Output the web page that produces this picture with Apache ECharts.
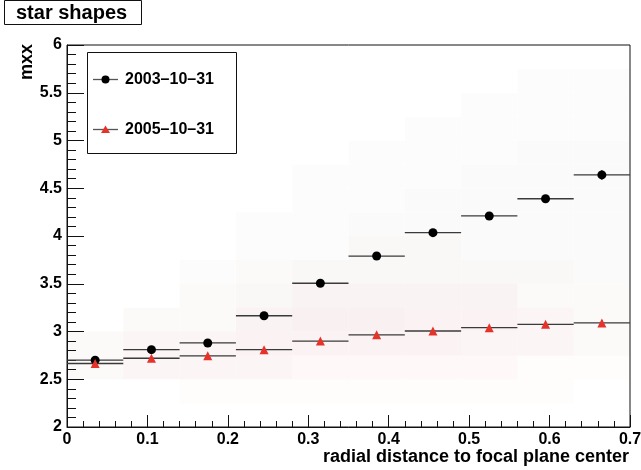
<!DOCTYPE html>
<html>
<head>
<meta charset="utf-8">
<script src="https://cdn.jsdelivr.net/npm/echarts@6/dist/echarts.min.js"></script>
<style>
html,body{margin:0;padding:0;background:#fff;}
#chart{width:641px;height:470px;}
</style>
</head>
<body>
<div id="chart"></div>
<script>
// ---- data ----
const binCenters = [0.035, 0.105, 0.175, 0.245, 0.315, 0.385, 0.455, 0.525, 0.595, 0.665];
const mxx2003 = [2.70, 2.81, 2.88, 3.165, 3.505, 3.79, 4.035, 4.21, 4.39, 4.64];
const err2003 = [0.01, 0.01, 0.01, 0.01, 0.015, 0.015, 0.02, 0.02, 0.025, 0.05];
const mxx2005 = [2.665, 2.72, 2.745, 2.81, 2.90, 2.965, 3.005, 3.04, 3.075, 3.09];
const err2005 = [0.005, 0.005, 0.005, 0.005, 0.005, 0.008, 0.008, 0.01, 0.01, 0.03];
const xTickLabels = ['0', '0.1', '0.2', '0.3', '0.4', '0.5', '0.6', '0.7'];
const yTickLabels = ['2', '2.5', '3', '3.5', '4', '4.5', '5', '5.5', '6'];
const legendLabels = ['2003\u201310\u201331', '2005\u201310\u201331'];
const titleText = 'star shapes';
const xTitle = 'radial distance to focal plane center';
const yTitle = 'mxx';
// faint point-cloud density (rows: mxx 2.0-2.25 ... 5.75-6.0; columns: the 10 bins)
const greyDensity = [
  [0,0,0,0,0,0,0,0,0,0],
  [0,0,0,0,0,0,0,0,0,0],
  [1,1,1,1,0,0,0,0,0,0],
  [1,1,1,1,1,1,1,1,1,1],
  [0,1,1,2,2,2,1,1,1,1],
  [0,0,1,2,2,2,2,2,1,1],
  [0,0,1,1,2,2,2,2,2,2],
  [0,0,0,1,1,2,2,2,2,2],
  [0,0,0,1,1,2,2,2,2,2],
  [0,0,0,0,1,1,2,2,2,2],
  [0,0,0,0,1,1,1,2,2,2],
  [0,0,0,0,0,1,1,1,2,2],
  [0,0,0,0,0,0,1,1,1,1],
  [0,0,0,0,0,0,0,1,1,1],
  [0,0,0,0,0,0,0,0,1,1],
  [0,0,0,0,0,0,0,0,0,0]
];
const redDensity = [
  [0,0,0,0,0,0,0,0,0,0],
  [0,0,1,1,1,1,1,1,1,0],
  [1,2,2,2,2,2,2,2,1,1],
  [1,2,2,3,3,3,3,2,2,1],
  [0,1,1,2,3,3,3,3,2,1],
  [0,0,1,1,2,2,2,2,1,1],
  [0,0,0,1,1,1,1,1,1,0],
  [0,0,0,0,0,1,1,0,0,0]
];

// ---- build ----
const binHalf = 0.035, rowH = 0.25, yMin = 2;
function cells(dens) {
  const out = [];
  dens.forEach((row, r) => row.forEach((lv, c) => {
    if (lv > 0) out.push([binCenters[c], yMin + r * rowH + rowH / 2, lv]);
  }));
  return out;
}
function cloudSeries(dens, colors) {
  return {
    type: 'custom', silent: true, z: 1,
    data: cells(dens),
    renderItem: function (params, api) {
      const x = api.value(0), y = api.value(1), lv = api.value(2);
      const p0 = api.coord([x - binHalf, y + rowH / 2]);
      const p1 = api.coord([x + binHalf, y - rowH / 2]);
      return { type: 'rect', shape: { x: p0[0], y: p0[1], width: p1[0] - p0[0], height: p1[1] - p0[1] },
        style: { fill: colors[lv - 1] } };
    }
  };
}
function errSeries(xs, ys, es) {
  return {
    type: 'custom', silent: true, z: 3,
    data: xs.map((x, i) => [x, ys[i], es[i]]),
    renderItem: function (params, api) {
      const x = api.value(0), y = api.value(1), e = api.value(2);
      const a = api.coord([x - binHalf, y]), b = api.coord([x + binHalf, y]);
      const c = api.coord([x, y - e]), d = api.coord([x, y + e]);
      const st = { stroke: '#3a3a3a', lineWidth: 1.3 };
      return { type: 'group', children: [
        { type: 'line', shape: { x1: a[0], y1: a[1], x2: b[0], y2: b[1] }, style: st },
        { type: 'line', shape: { x1: c[0], y1: c[1], x2: d[0], y2: d[1] }, style: st }
      ] };
    }
  };
}

const FONT = '"Liberation Sans", Arial, Helvetica, sans-serif';
const chart = echarts.init(document.getElementById('chart'), null, { renderer: 'canvas' });
const option = {
  animation: false,
  backgroundColor: '#fff',
  grid: { left: 67, right: 11, top: 45, bottom: 43, containLabel: false, outerBoundsMode: 'none',
    show: true, borderColor: '#111', borderWidth: 1, backgroundColor: 'transparent' },
  xAxis: {
    type: 'value', min: 0, max: 0.7, interval: 0.1,
    axisLine: { show: true, onZero: false, lineStyle: { color: '#111', width: 1 } },
    axisTick: { show: true, inside: true, length: 12, lineStyle: { color: '#111' } },
    minorTick: { show: true, splitNumber: 5, length: 6, lineStyle: { color: '#111' } },
    splitLine: { show: false }, minorSplitLine: { show: false },
    axisLabel: { show: true, margin: 5, color: '#000', fontSize: 16, fontWeight: 'bold', fontFamily: FONT,
      showMinLabel: true, showMaxLabel: true,
      formatter: v => xTickLabels[Math.round(v * 10)] }
  },
  yAxis: {
    type: 'value', min: 2, max: 6, interval: 0.5,
    axisLine: { show: true, onZero: false, lineStyle: { color: '#111', width: 1 } },
    axisTick: { show: true, inside: true, length: 17, lineStyle: { color: '#111' } },
    minorTick: { show: true, splitNumber: 5, length: 9, lineStyle: { color: '#111' } },
    splitLine: { show: false }, minorSplitLine: { show: false },
    axisLabel: { show: true, margin: 5, color: '#000', fontSize: 16, fontWeight: 'bold', fontFamily: FONT,
      showMinLabel: true, showMaxLabel: true,
      formatter: v => yTickLabels[Math.round((v - 2) * 2)] }
  },
  series: [
    cloudSeries(greyDensity, ['rgba(0,0,0,0.010)', 'rgba(0,0,0,0.020)', 'rgba(0,0,0,0.03)']),
    cloudSeries(redDensity, ['rgba(230,40,40,0.015)', 'rgba(230,40,40,0.03)', 'rgba(230,40,40,0.045)']),
    errSeries(binCenters, mxx2003, err2003),
    errSeries(binCenters, mxx2005, err2005),
    { name: legendLabels[0], type: 'scatter', z: 5, symbol: 'circle', symbolSize: 9,
      itemStyle: { color: '#000', opacity: 1 }, data: binCenters.map((x, i) => [x, mxx2003[i]]) },
    { name: legendLabels[1], type: 'scatter', z: 5, symbol: 'triangle', symbolSize: 9,
      itemStyle: { color: '#e5322b', opacity: 1 }, data: binCenters.map((x, i) => [x, mxx2005[i]]) }
  ],
  graphic: [
    { type: 'rect', shape: { x: 4.5, y: 0.5, width: 137, height: 24 }, style: { fill: '#fff', stroke: '#111', lineWidth: 1 }, z: 10 },
    { type: 'text', x: 16, y: 13, z: 11, style: { text: titleText, fill: '#000', font: 'bold 20px ' + FONT, verticalAlign: 'middle', align: 'left' } },
    { type: 'rect', shape: { x: 87.5, y: 52.5, width: 149, height: 101 }, style: { fill: '#fff', stroke: '#111', lineWidth: 1 }, z: 10 },
    { type: 'line', shape: { x1: 93, y1: 79.5, x2: 118, y2: 79.5 }, style: { stroke: '#555', lineWidth: 1.3 }, z: 11 },
    { type: 'circle', shape: { cx: 105.5, cy: 79.5, r: 4 }, style: { fill: '#000' }, z: 12 },
    { type: 'text', x: 125, y: 80, z: 11, style: { text: legendLabels[0], fill: '#000', font: 'bold 16px ' + FONT, verticalAlign: 'middle' } },
    { type: 'line', shape: { x1: 93, y1: 129.5, x2: 118, y2: 129.5 }, style: { stroke: '#555', lineWidth: 1.3 }, z: 11 },
    { type: 'polygon', shape: { points: [[105.5, 125.5], [110, 133], [101, 133]] }, style: { fill: '#e5322b' }, z: 12 },
    { type: 'text', x: 125, y: 130, z: 11, style: { text: legendLabels[1], fill: '#000', font: 'bold 16px ' + FONT, verticalAlign: 'middle' } },
    { type: 'text', x: 629, y: 457, z: 11, style: { text: xTitle, fill: '#000', font: 'bold 18px ' + FONT, verticalAlign: 'middle', align: 'right' } },
    { type: 'text', x: 36, y: 44, rotation: Math.PI / 2, z: 11, style: { text: yTitle, fill: '#000', font: 'bold 18px ' + FONT, verticalAlign: 'bottom', align: 'right' } }
  ]
};
chart.setOption(option);
</script>
</body>
</html>
